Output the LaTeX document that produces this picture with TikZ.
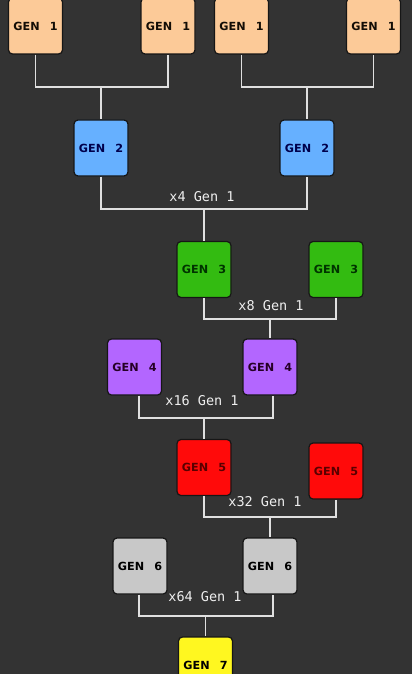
\documentclass[tikz,border=0pt]{standalone}
\usepackage{fontspec}
\newfontfamily\genfont[WordSpace=2.6]{DejaVu Sans}
\newfontfamily\countfont{DejaVu Sans Mono}
\definecolor{bgcol}{HTML}{333333}
\definecolor{boxline}{HTML}{161616}
\definecolor{linkcol}{HTML}{E0E0E0}
\definecolor{countcol}{HTML}{EEEEEE}
\definecolor{gencolA}{HTML}{FCCA98}
\definecolor{gencolB}{HTML}{66B0FF}
\definecolor{gencolC}{HTML}{33BB11}
\definecolor{gencolD}{HTML}{B366FF}
\definecolor{gencolE}{HTML}{FF0A0A}
\definecolor{gencolF}{HTML}{C8C8C8}
\definecolor{gencolG}{HTML}{FFF720}
\begin{document}
\begin{tikzpicture}[x=1pt,y=-1pt,
  genbox/.style={draw=boxline, line width=1.2pt, rounded corners=4pt, minimum width=54pt, minimum height=56pt, inner sep=0pt, font=\genfont\bfseries\fontsize{11.2}{13}\selectfont},
  count/.style={text=countcol, inner sep=1pt, font=\countfont\fontsize{13.5}{15}\selectfont},
  link/.style={draw=linkcol, line width=1.5pt}]
\fill[bgcol] (0,0) rectangle (412,674);
\useasboundingbox (0,0) rectangle (412,674);
% gen 1 and gen 2
\node[genbox, fill=gencolA, text=black!90!brown] (g1a) at (35.5,26){GEN 1};
\node[genbox, fill=gencolA, text=black!90!brown] (g1b) at (168,26){GEN 1};
\node[genbox, fill=gencolA, text=black!90!brown] (g1c) at (241.5,26){GEN 1};
\node[genbox, fill=gencolA, text=black!90!brown] (g1d) at (373.5,26){GEN 1};
\coordinate (j1) at (101,87);
\coordinate (j2) at (307,87);
\node[genbox, fill=gencolB, text=blue!30!black] (g2a) at (101,148){GEN 2};
\node[genbox, fill=gencolB, text=blue!30!black] (g2b) at (307,148){GEN 2};
\draw[link] (g1a.south) |- (j1) -| (g1b.south);
\draw[link] (j1) -- (g2a.north);
\draw[link] (g1c.south) |- (j2) -| (g1d.south);
\draw[link] (j2) -- (g2b.north);
% gen 3
\node[count] (c4) at (202,197){x4 Gen 1};
\coordinate (j3) at (204,209);
\node[genbox, fill=gencolC, text=green!20!black] (g3a) at (204,269.5){GEN 3};
\node[genbox, fill=gencolC, text=green!20!black] (g3b) at (336,269.5){GEN 3};
\draw[link] (g2a.south) |- (j3) -| (g2b.south);
\draw[link] (j3) -- (g3a.north);
% gen 4
\node[count] (c8) at (271,306){x8 Gen 1};
\coordinate (j4) at (270,319);
\node[genbox, fill=gencolD, text=violet!30!black] (g4a) at (134.5,367){GEN 4};
\node[genbox, fill=gencolD, text=violet!30!black] (g4b) at (270,367){GEN 4};
\draw[link] (g3a.south) |- (j4) -| (g3b.south);
\draw[link] (j4) -- (g4b.north);
% gen 5
\node[count] (c16) at (202,401){x16 Gen 1};
\coordinate (j5) at (204,418);
\node[genbox, fill=gencolE, text=red!35!black] (g5a) at (204,467.5){GEN 5};
\node[genbox, fill=gencolE, text=red!35!black] (g5b) at (336,471){GEN 5};
\draw[link] ([xshift=4.5pt]g4a.south) |- (j5) -| ([xshift=3pt]g4b.south);
\draw[link] (j5) -- (g5a.north);
% gen 6
\node[count] (c32) at (265,502){x32 Gen 1};
\coordinate (j6) at (270,517);
\node[genbox, fill=gencolF, text=black] (g6a) at (140,566){GEN 6};
\node[genbox, fill=gencolF, text=black] (g6b) at (270,566){GEN 6};
\draw[link] (g5a.south) |- (j6) -| (g5b.south);
\draw[link] (j6) -- (g6b.north);
% gen 7
\node[count] (c64) at (205,597){x64 Gen 1};
\coordinate (j7) at (205.5,616);
\node[genbox, fill=gencolG, text=black] (g7) at (205.5,665){GEN 7};
\draw[link] ([xshift=-1pt]g6a.south) |- (j7) -| ([xshift=3pt]g6b.south);
\draw[link] (j7) -- (g7.north);
\end{tikzpicture}
\end{document}
